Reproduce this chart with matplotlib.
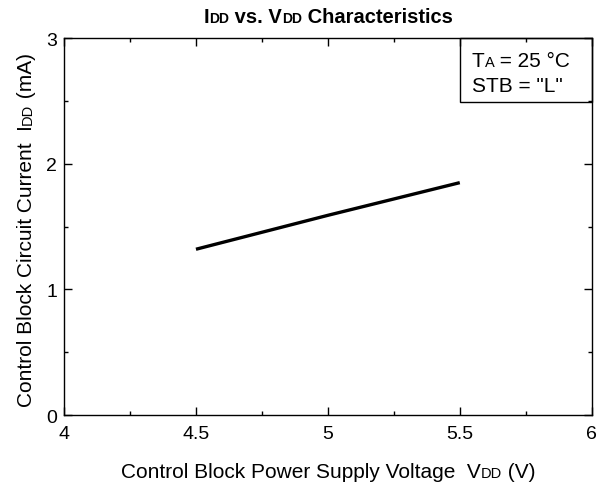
import matplotlib
matplotlib.use("Agg")
import matplotlib.pyplot as plt
from matplotlib.patches import Rectangle
from matplotlib.ticker import MultipleLocator
from matplotlib.transforms import IdentityTransform

plt.rcParams['font.family'] = ['Liberation Sans', 'DejaVu Sans']

vdd = [4.5, 4.75, 5.0, 5.25, 5.5]
idd = [1.32, 1.455, 1.59, 1.72, 1.85]
xticks = [4, 4.5, 5, 5.5, 6]
xticklabels = ["4", "4.5", "5", "5.5", "6"]
yticks = [0, 1, 2, 3]
yticklabels = ["0", "1", "2", "3"]

W, H = 610, 489
fig = plt.figure(figsize=(W / 100, H / 100), dpi=100)
ax = fig.add_axes([0.105, 0.149, 0.865, 0.771])
ax.plot(vdd, idd, color='black', lw=2.4, solid_capstyle='butt')
ax.set_xlim(4, 6)
ax.set_ylim(0, 3)
ax.set_xticks(xticks)
ax.set_xticklabels(xticklabels)
ax.set_yticks(yticks)
ax.set_yticklabels(yticklabels)
ax.xaxis.set_minor_locator(MultipleLocator(0.25))
ax.yaxis.set_minor_locator(MultipleLocator(0.5))
ax.tick_params(which='both', direction='in', top=True, right=True, labelsize=14, width=1)
ax.tick_params(axis='x', pad=7)
ax.tick_params(axis='y', pad=5)
ax.tick_params(which='major', length=6)
ax.tick_params(which='minor', length=3)
for s in ax.spines.values():
    s.set_linewidth(1)

renderer = fig.canvas.get_renderer()


def rich(pieces, x, y, ha='center', rotation=0, weight='normal'):
    """pieces: list of (text, size). x, y in pixels from top-left; y is baseline."""
    widths = []
    for s, size in pieces:
        t = fig.text(0, 0, s, fontsize=size, fontweight=weight)
        widths.append(t.get_window_extent(renderer).width)
        t.remove()
    total = sum(widths)
    start = {'center': -total / 2, 'left': 0, 'right': -total}[ha]
    off = start
    for (s, size), w in zip(pieces, widths):
        if rotation == 0:
            px, py = x + off, H - y
        else:
            px, py = x, H - y + off
        fig.text(px, py, s, fontsize=size, fontweight=weight, transform=IdentityTransform(),
                 ha='left', va='baseline', rotation=rotation, rotation_mode='anchor')
        off += w


big, small = 15, 10.5
rich([("I", 14.5), ("DD", 10), (" vs. V", 14.5), ("DD", 10), (" Characteristics", 14.5)],
     328, 23, weight='bold')
rich([("Control Block Power Supply Voltage  V", big), ("DD", small), (" (V)", big)], 328, 478)
rich([("Control Block Circuit Current  I", big), ("DD", small), (" (mA)", big)], 32, 230, rotation=90)

ax.add_patch(Rectangle((0.75, 0.83), 0.25, 0.17, transform=ax.transAxes,
                       fill=False, edgecolor='black', lw=1, clip_on=False))
rich([("T", big), ("A", small), (" = 25 °C", big)], 472, 67, ha='left')
rich([('STB = "L"', big)], 472, 92, ha='left')

fig.savefig("out.png", dpi=100)
